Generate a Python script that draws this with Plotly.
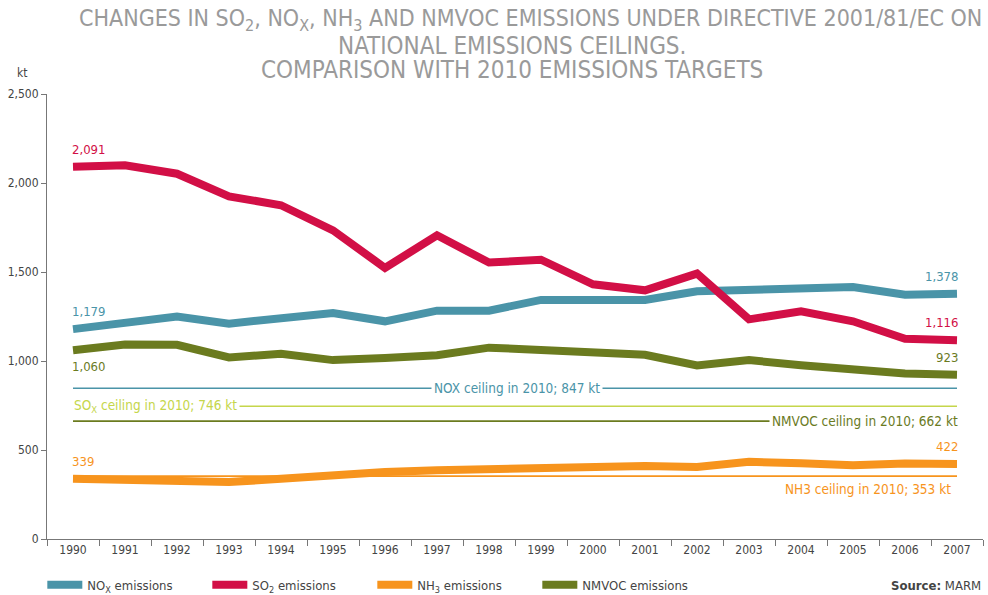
import plotly.graph_objects as go

years = [str(y) for y in range(1990, 2008)]
nox = [1179, 1219, 1250, 1210, 1240, 1270, 1223, 1283, 1283, 1343, 1343, 1343, 1392, 1399, 1406, 1416, 1372, 1378]
so2 = [2091, 2100, 2052, 1925, 1875, 1734, 1523, 1706, 1553, 1569, 1431, 1397, 1491, 1234, 1279, 1223, 1125, 1116]
nh3 = [339, 335, 326, 320, 338, 358, 376, 386, 393, 401, 405, 410, 405, 434, 425, 414, 424, 422]
nmvoc = [1060, 1093, 1091, 1020, 1040, 1005, 1017, 1032, 1075, 1060, 1046, 1035, 975, 1005, 976, 950, 930, 923]

ceil_nox = 847
ceil_sox = 746
ceil_nmvoc = 662
ceil_nh3 = 353

title_lines = [
    "CHANGES IN SO<sub>2</sub>, NO<sub>X</sub>, NH<sub>3</sub> AND NMVOC EMISSIONS UNDER DIRECTIVE 2001/81/EC ON",
    "NATIONAL EMISSIONS CEILINGS.",
    "COMPARISON WITH 2010 EMISSIONS TARGETS",
]

C_NOX = "#4a94a8"
C_SO2 = "#d20f46"
C_NH3 = "#f7941d"
C_NMV = "#6b7b1f"
C_SOX = "#c5d64b"

NARROW = "DejaVu Sans Condensed, sans-serif"
TXT = "#444444"

fig = go.Figure()

for val, col in [(ceil_nox, C_NOX), (ceil_sox, C_SOX), (ceil_nmvoc, C_NMV), (ceil_nh3, C_NH3)]:
    fig.add_trace(go.Scatter(x=years, y=[val] * len(years), mode="lines",
                             line=dict(color=col, width=1.6), showlegend=False, hoverinfo="skip"))

series = [
    ("NO<sub>X</sub> emissions", nox, C_NOX),
    ("SO<sub>2</sub> emissions", so2, C_SO2),
    ("NH<sub>3</sub> emissions", nh3, C_NH3),
    ("NMVOC emissions", nmvoc, C_NMV),
]
for name, vals, col in series:
    fig.add_trace(go.Scatter(x=years, y=vals, mode="lines", name=name,
                             line=dict(color=col, width=8)))

ann = []
def lab(x, y, text, col, xanchor="left", yanchor="bottom", yshift=6, bg=None, size=13, xshift=0):
    d = dict(x=x, y=y, xref="x", yref="y", text=text, showarrow=False,
             font=dict(family=NARROW, size=size, color=col),
             xanchor=xanchor, yanchor=yanchor, yshift=yshift, xshift=xshift)
    if bg:
        d.update(bgcolor=bg, borderpad=2)
    ann.append(d)

lab(0, so2[0], f"{so2[0]:,}", C_SO2, xanchor="left", yshift=8, xshift=-3)
lab(0, nox[0], f"{nox[0]:,}", C_NOX, xanchor="left", yshift=8, xshift=-3)
lab(0, nmvoc[0], f"{nmvoc[0]:,}", C_NMV, xanchor="left", yanchor="top", yshift=-7, xshift=-3)
lab(0, nh3[0], f"{nh3[0]:,}", C_NH3, xanchor="left", yshift=8, xshift=-3)
lab(17, nox[-1], f"{nox[-1]:,}", C_NOX, xanchor="right", yshift=8, xshift=3)
lab(17, so2[-1], f"{so2[-1]:,}", C_SO2, xanchor="right", yshift=8, xshift=3)
lab(17, nmvoc[-1], f"{nmvoc[-1]:,}", C_NMV, xanchor="right", yshift=8, xshift=3)
lab(17, nh3[-1], f"{nh3[-1]:,}", C_NH3, xanchor="right", yshift=8, xshift=3)

lab(8.53, ceil_nox, f"NOX ceiling in 2010; {ceil_nox} kt", C_NOX, xanchor="center", yanchor="middle", yshift=0, bg="white", size=13.5)
lab(0, ceil_sox, f"SO<sub>X</sub> ceiling in 2010; {ceil_sox} kt", C_SOX, xanchor="left", yanchor="middle", yshift=0, bg="white", size=13.5, xshift=-2)
lab(17, ceil_nmvoc, f"NMVOC ceiling in 2010; {ceil_nmvoc} kt", C_NMV, xanchor="right", yanchor="middle", yshift=0, bg="white", size=13.5, xshift=4)
lab(17, ceil_nh3, f"NH3 ceiling in 2010; {ceil_nh3} kt", C_NH3, xanchor="right", yanchor="top", yshift=-3, size=13.5, xshift=-4)

for txt, cx, cy, sz in [(title_lines[0], 0.517, 1.166, 23), (title_lines[1], 0.497, 1.108, 24), (title_lines[2], 0.497, 1.054, 24)]:
    ann.append(dict(x=cx, y=cy, xref="paper", yref="paper", xanchor="center", yanchor="middle",
                    showarrow=False, text=txt, font=dict(family=NARROW, size=sz, color="#9a9a9a")))

ann.append(dict(x=-0.027, y=1.047, xref="paper", yref="paper", xanchor="center", yanchor="middle",
                showarrow=False, text="kt", font=dict(family=NARROW, size=12, color=TXT)))
ann.append(dict(x=1.0, y=-0.105, xref="paper", yref="paper", xanchor="right", yanchor="middle",
                showarrow=False, text="<b>Source:</b> MARM", font=dict(family=NARROW, size=13, color=TXT)))

fig.update_layout(
    width=988, height=595,
    margin=dict(l=47, r=5, t=94, b=56, autoexpand=False),
    paper_bgcolor="white", plot_bgcolor="white",
    annotations=ann,
    showlegend=True,
    legend=dict(orientation="h", x=-0.005, y=-0.103, xanchor="left", yanchor="middle",
                font=dict(family=NARROW, size=13, color=TXT),
                itemwidth=35, entrywidth=115, tracegroupgap=0),
    xaxis=dict(type="category", range=[-0.5, 17.5], showgrid=False, showline=True, automargin=False,
               linecolor="#777", linewidth=1, ticks="outside", tickson="boundaries",
               ticklen=6, tickcolor="#777", tickfont=dict(family=NARROW, size=12, color=TXT),
               zeroline=False),
    yaxis=dict(range=[0, 2500], tickvals=[0, 500, 1000, 1500, 2000, 2500], ticktext=["0", "500", "1,000", "1,500", "2,000", "2,500"],
               showgrid=False, showline=True, linecolor="#777", linewidth=1, ticks="outside", automargin=False,
               ticklen=5, tickcolor="#777", tickfont=dict(family=NARROW, size=12, color=TXT),
               zeroline=False),
)

fig.write_html("out.html", config={"displayModeBar": False},
               post_script="document.body.style.margin='0px';")
